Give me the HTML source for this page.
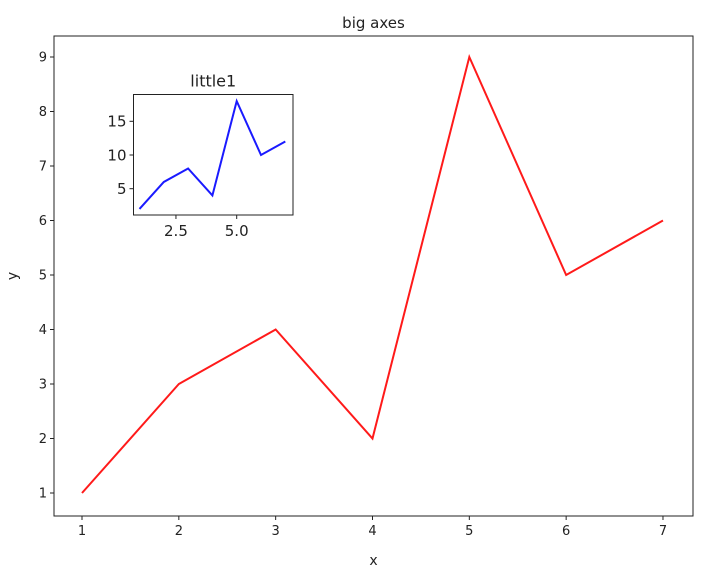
<!DOCTYPE html>
<html><head><meta charset="utf-8"><style>
body{margin:0;background:#fff;}
text{font-family:"DejaVu Sans","Liberation Sans",sans-serif;fill:#222;}
</style></head><body>
<svg id="c" width="709" height="572" xmlns="http://www.w3.org/2000/svg"></svg>
<script>
const xs=[1,2,3,4,5,6,7];
const bigY=[1,3,4,2,9,5,6];
const littleY=[2,6,8,4,18,10,12];
const bigXTicks=[1,2,3,4,5,6,7];
const bigYTicks=[1,2,3,4,5,6,7,8,9];
const littleXTicks=[2.5,5.0];
const littleYTicks=[5,10,15];
const NS="http://www.w3.org/2000/svg";
const svg=document.getElementById('c');
function mk(t,a,p){const e=document.createElementNS(NS,t);for(const k in a)e.setAttribute(k,a[k]);(p||svg).appendChild(e);return e;}
function axes(name,L,R,T,B,fx,fy,xt,yt,xfmt,fs,tfs,title,data,color,xl,yl){
  const g=mk('g',{});
  
  
  const pts=xs.map((x,i)=>fx(x)+','+fy(data[i])).join(' ');
  const line=mk('polyline',{points:pts,fill:'none',stroke:color,'stroke-width':2},g);
  
  
  xt.forEach(v=>{const x=fx(v);mk('line',{x1:x,x2:x,y1:B,y2:B+4,stroke:'#222'},g);
    const t=mk('text',{x:x,y:B+4+fs+2,'font-size':fs,'text-anchor':'middle'},g);t.textContent=xfmt(v);
    });
  yt.forEach(v=>{const y=fy(v);mk('line',{x1:L-4,x2:L,y1:y,y2:y,stroke:'#222'},g);
    const t=mk('text',{x:L-7,y:y+fs*0.36,'font-size':fs,'text-anchor':'end'},g);t.textContent=v;
    });
  const fr=mk('rect',{x:L,y:T,width:R-L,height:B-T,fill:'none',stroke:'#222','stroke-width':1},g);
  
  const tt=mk('text',{x:(L+R)/2,y:T-8,'font-size':tfs,'text-anchor':'middle'},g);tt.textContent=title;
  
  if(xl){const t=mk('text',{x:(L+R)/2,y:B+49,'font-size':fs+1,'text-anchor':'middle'},g);t.textContent=xl;
    }
  if(yl){const t=mk('text',{x:0,y:0,'font-size':fs+1,'text-anchor':'middle',transform:`translate(17,${(T+B)/2}) rotate(-90)`},g);t.textContent=yl;
    }
}
const bx=v=>82+(v-1)*96.83, by=v=>493-(v-1)*54.5;
mk('rect',{x:54,y:36,width:639,height:480,fill:'#fff'});
axes('big-axes',54,693,36,516,bx,by,bigXTicks,bigYTicks,v=>v,13,15,'big axes',bigY,'#ff1a1a','x','y');
const lx=v=>236.7+(v-5)*24.3, ly=v=>188.7-(v-5)*6.74;
mk('rect',{x:133.5,y:94.5,width:159.5,height:120.5,fill:'#fff'});
axes('little-axes',133.5,293,94.5,215,lx,ly,littleXTicks,littleYTicks,v=>v.toFixed(1),15,16,'little1',littleY,'#1a1aff');
</script>
</body></html>
